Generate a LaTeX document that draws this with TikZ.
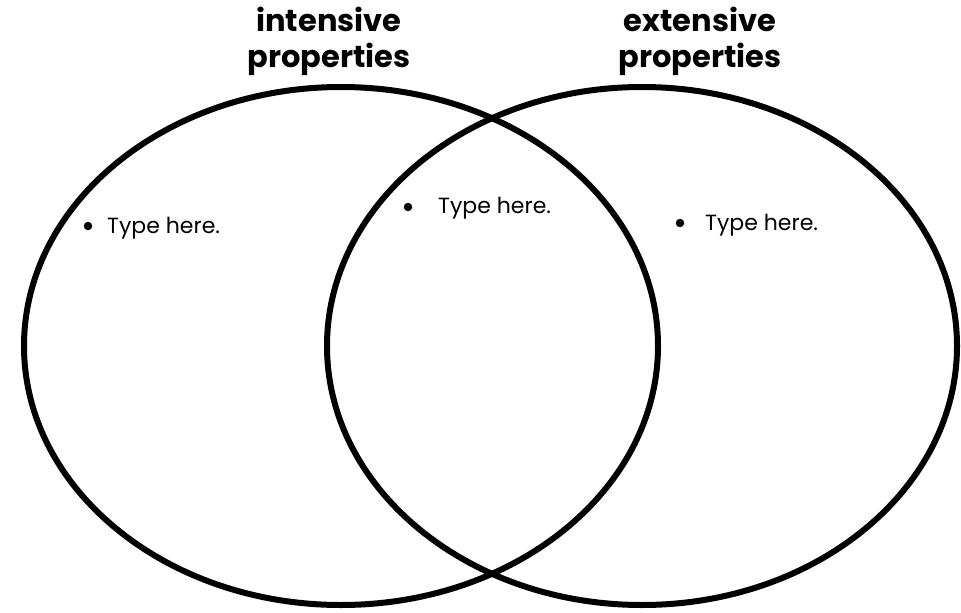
\documentclass[tikz,border=0pt]{standalone}
\usepackage{fontspec}
\setmainfont{Poppins}
\begin{document}
\begin{tikzpicture}[x=1pt,y=-1pt,
  title/.style={align=center, inner sep=0, font=\fontsize{30.5}{36}\selectfont\bfseries},
  entry/.style={anchor=base west, inner sep=0, font=\fontsize{22}{24}\selectfont},
  blt/.style={circle, fill, inner sep=0, minimum size=8.5pt}]
\useasboundingbox (0,0) rectangle (961,613);
\draw[line width=6pt] (341,346) ellipse [x radius=317, y radius=259];
\draw[line width=6pt] (642,346) ellipse [x radius=315, y radius=259];
\node[title] (1) at (329,41) {intensive\\properties};
\node[title] (2) at (700,41) {extensive\\properties};
\node[blt] (3) at (88,226) {};
\node[entry] (4) at (107,233) {Type here.};
\node[blt] (5) at (408,207) {};
\node[entry] (6) at (438,213) {Type here.};
\node[blt] (7) at (680,223) {};
\node[entry] (8) at (705,230) {Type here.};
\end{tikzpicture}
\end{document}
